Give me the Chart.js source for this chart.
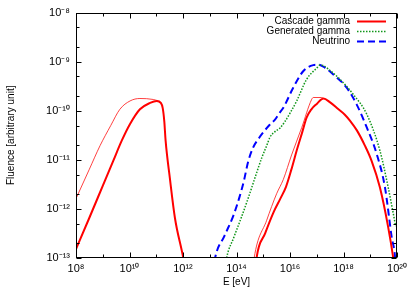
<!DOCTYPE html>
<html><head><meta charset="utf-8">
<script src="https://cdn.jsdelivr.net/npm/chart.js@4/dist/chart.umd.min.js"></script>
<style>html,body{margin:0;padding:0;background:#fff}</style>
</head><body>
<canvas id="c" width="415" height="290"></canvas>
<script>
// ---- data (log10 values) ----
const xTickExps = [8,9,10,11,12,13,14,15,16,17,18,19,20];
const xLabelExps = [8,10,12,14,16,18,20];
const yTickExps = [-13,-12,-11,-10,-9,-8];
const seriesNames = ['Cascade gamma','Generated gamma','Neutrino'];

const cascadeLogE = [8.0,8.5,9.0,9.4,9.71,10.02,10.39,10.77,11.02,11.17,11.24,11.30,11.35,11.51,11.70,12.01,12.1,
  13.4,
  14.70,14.75,15.07,15.40,15.63,15.85,16.05,16.25,16.45,16.62,16.80,17.00,17.25,17.50,17.79,18.05,18.24,18.50,18.80,19.05,19.36,19.67,19.86,19.93];
const cascadeLogF = [-12.82,-12.18,-11.53,-11.01,-10.61,-10.27,-9.97,-9.84,-9.80,-9.84,-9.94,-10.21,-10.61,-11.38,-12.19,-13.0,-13.3,
  null,
  -13.3,-13.0,-12.5,-12.05,-11.80,-11.55,-11.20,-10.81,-10.45,-10.14,-9.97,-9.86,-9.75,-9.83,-9.96,-10.08,-10.20,-10.40,-10.71,-11.02,-11.56,-12.37,-13.0,-13.3];

const cascadeAltLogE = [8.0,8.5,8.9,9.3,9.64,10.02,10.39,10.89,11.08,
  13.4,
  14.60,14.66,15.13,15.50,15.75,16.06,16.44,16.80,16.87,17.18,17.25];
const cascadeAltLogF = [-11.79,-11.19,-10.71,-10.30,-9.97,-9.80,-9.75,-9.77,-9.80,
  null,
  -13.3,-13.0,-12.23,-11.69,-11.40,-10.90,-10.34,-9.78,-9.73,-9.73,-9.75];

const generatedLogE = [13.55,13.63,13.90,14.19,14.45,14.70,14.95,15.13,15.25,15.45,15.63,15.81,16.0,16.25,16.62,17.0,17.12,17.25,17.50,17.87,18.37,18.87,19.36,19.67,19.95];
const generatedLogF = [-13.3,-13.0,-12.58,-12.16,-11.76,-11.35,-10.95,-10.71,-10.54,-10.42,-10.35,-10.22,-10.05,-9.80,-9.36,-9.13,-9.07,-9.08,-9.18,-9.36,-9.67,-10.07,-10.81,-11.56,-12.35];

const neutrinoLogE = [13.12,13.20,13.55,13.88,14.10,14.28,14.43,14.62,14.85,15.00,15.25,15.44,15.60,15.75,16.12,16.50,16.87,17.06,17.30,17.62,18.12,18.49,18.87,19.24,19.55,19.80,19.93,19.96];
const neutrinoLogF = [-13.3,-13.0,-12.55,-12.14,-11.78,-11.42,-11.05,-10.75,-10.55,-10.44,-10.28,-10.18,-10.05,-9.94,-9.53,-9.19,-9.07,-9.06,-9.12,-9.26,-9.53,-9.87,-10.34,-10.88,-11.56,-12.57,-13.0,-13.3];

// ---- build ----
function pts(le, lf){ return le.map((e,i)=>({x:Math.pow(10,e), y: lf[i]===null?null:Math.pow(10,lf[i])})); }
const FONT = 'Liberation Sans, Arial, Helvetica, sans-serif';
const SUP = {'0':'⁰','1':'¹','2':'²','3':'³','4':'⁴','5':'⁵','6':'⁶','7':'⁷','8':'⁸','9':'⁹','-':'⁻'};
function pow10Label(e){ return '10' + String(e).split('').map(c=>SUP[c]).join(''); }

const styles = [
  {color:'#ff0000', width:2, dash:[]},
  {color:'#11961a', width:1.5, dash:[1.5,1.5]},
  {color:'#0000ff', width:2, dash:[7,4]}
];

const framePlugin = {
  id:'frame',
  afterDraw(chart){
    const {ctx, chartArea:a, scales} = chart;
    ctx.save();
    ctx.strokeStyle = '#000'; ctx.lineWidth = 1;
    const L = Math.round(a.left)+0.5, R = Math.round(a.right)-0.5, T = Math.round(a.top)+0.5, B = Math.round(a.bottom)-0.5;
    ctx.beginPath();
    xTickExps.forEach(e=>{
      const px = Math.round(scales.x.getPixelForValue(Math.pow(10,e)))+0.5;
      const len = xLabelExps.includes(e) ? 5 : 3;
      ctx.moveTo(px,B); ctx.lineTo(px,B-len);
      ctx.moveTo(px,T); ctx.lineTo(px,T+len);
    });
    yTickExps.forEach(e=>{
      [1,2,5].forEach(m=>{
        const v = m*Math.pow(10,e);
        if (v > 1.0001e-8) return;
        const py = Math.round(scales.y.getPixelForValue(v))+0.5;
        const len = m===1 ? 5 : 3;
        ctx.moveTo(L,py); ctx.lineTo(L+len,py);
        ctx.moveTo(R,py); ctx.lineTo(R-len,py);
      });
    });
    ctx.stroke();
    ctx.strokeRect(L, T, R-L, B-T);
    // legend
    ctx.font = '10px ' + FONT;
    ctx.fillStyle = '#000';
    ctx.textAlign = 'right'; ctx.textBaseline = 'middle';
    seriesNames.forEach((n,i)=>{
      const y = 21 + i*10;
      ctx.fillText(n, 350, y+0.5);
      ctx.beginPath();
      ctx.strokeStyle = styles[i].color; ctx.lineWidth = styles[i].width;
      ctx.setLineDash(styles[i].dash);
      ctx.moveTo(357, y+0.5); ctx.lineTo(386, y+0.5);
      ctx.stroke();
      ctx.setLineDash([]);
    });
    ctx.restore();
  }
};

new Chart(document.getElementById('c'), {
  type:'line',
  data:{ datasets:[
    {label:'Cascade gamma (alt)', data:pts(cascadeAltLogE,cascadeAltLogF), borderColor:'rgba(255,0,0,0.75)', borderWidth:1, pointRadius:0, spanGaps:false, cubicInterpolationMode:'monotone', fill:false},
    {label:seriesNames[0], data:pts(cascadeLogE,cascadeLogF), borderColor:styles[0].color, borderWidth:styles[0].width, pointRadius:0, spanGaps:false, cubicInterpolationMode:'monotone', fill:false},
    {label:seriesNames[1], data:pts(generatedLogE,generatedLogF), borderColor:styles[1].color, borderWidth:styles[1].width, borderDash:styles[1].dash, pointRadius:0, cubicInterpolationMode:'monotone', fill:false},
    {label:seriesNames[2], data:pts(neutrinoLogE,neutrinoLogF), borderColor:styles[2].color, borderWidth:styles[2].width, borderDash:styles[2].dash, pointRadius:0, cubicInterpolationMode:'monotone', fill:false}
  ]},
  options:{
    responsive:false, animation:false, devicePixelRatio:1,
    layout:{padding:{left:0,right:18,top:11,bottom:0}},
    plugins:{legend:{display:false}, tooltip:{enabled:false}},
    scales:{
      x:{type:'logarithmic', position:'bottom', min:1e8, max:1e20,
        afterBuildTicks:s=>{ s.ticks = xTickExps.map(e=>({value:Math.pow(10,e)})); },
        afterFit:s=>{ s.height = 32; },
        grid:{display:false, drawTicks:false}, border:{display:false},
        ticks:{autoSkip:false, maxRotation:0, padding:4, color:'#000', font:{family:FONT, size:11},
          callback:(v)=>{ const e=Math.round(Math.log10(v)); return xLabelExps.includes(e)?pow10Label(e):''; }},
        title:{display:true, text:'E [eV]', color:'#000', font:{family:FONT, size:10}, padding:{top:0,bottom:2}}
      },
      y:{type:'logarithmic', position:'left', min:1e-13, max:1e-8,
        afterBuildTicks:s=>{ s.ticks = yTickExps.map(e=>({value:Math.pow(10,e)})); },
        afterFit:s=>{ s.width = 76; },
        grid:{display:false, drawTicks:false}, border:{display:false},
        ticks:{autoSkip:false, padding:6, color:'#000', font:{family:FONT, size:11},
          callback:(v)=>pow10Label(Math.round(Math.log10(v)))},
        title:{display:true, text:'Fluence [arbitrary unit]', color:'#000', font:{family:FONT, size:10}, padding:{top:5,bottom:0}}
      }
    }
  },
  plugins:[framePlugin]
});
</script>
</body></html>
